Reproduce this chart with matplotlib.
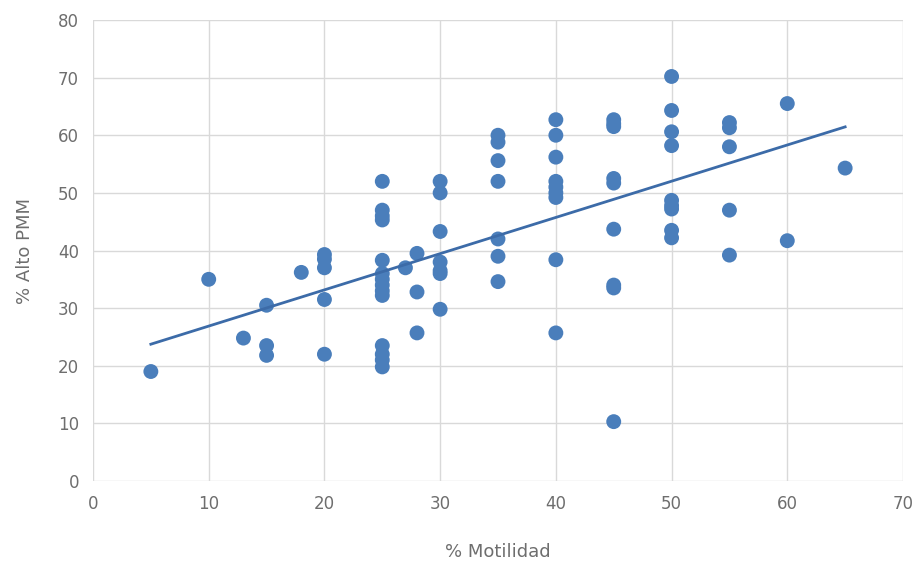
import matplotlib.pyplot as plt
import numpy as np

# % Motilidad vs % Alto PMM, grouped by motility value
motilidad = [5, 10, 13, 15, 15, 15, 18,
             20, 20, 20, 20, 20,
             25, 25, 25, 25, 25, 25, 25, 25, 25, 25, 25, 25, 25, 25,
             27, 28, 28, 28,
             30, 30, 30, 30, 30, 30, 30,
             35, 35, 35, 35, 35, 35, 35,
             40, 40, 40, 40, 40, 40, 40, 40, 40,
             45, 45, 45, 45, 45, 45, 45, 45, 45,
             50, 50, 50, 50, 50, 50, 50, 50, 50,
             55, 55, 55, 55, 55,
             60, 60, 65]
alto_pmm = [19, 35, 24.8, 30.5, 23.5, 21.8, 36.2,
            39.3, 38.5, 37, 31.5, 22,
            52, 47, 46, 45.3, 38.3, 36, 35, 34, 33, 32.2, 23.5, 22, 21, 19.8,
            37, 39.5, 32.8, 25.7,
            52, 50, 43.3, 38, 36.5, 36, 29.8,
            60, 58.8, 55.6, 52, 42, 39, 34.6,
            62.7, 60, 56.2, 52, 51, 50, 49.2, 38.4, 25.7,
            62.7, 62, 61.5, 52.5, 51.7, 43.7, 34, 33.5, 10.3,
            70.2, 64.3, 60.6, 58.2, 48.7, 47.8, 47.2, 43.5, 42.2,
            62.2, 61.3, 58, 47, 39.2,
            65.5, 41.7, 54.3]

x = np.array(motilidad, dtype=float)
y = np.array(alto_pmm, dtype=float)
slope, intercept = np.polyfit(x, y, 1)
xfit = np.array([x.min(), x.max()])

fig = plt.figure(figsize=(9.18, 5.65), dpi=100)
ax = fig.add_axes([93 / 918, 1 - 481 / 565, 810 / 918, 461 / 565])

ax.scatter(x, y, s=115, color='#4a7ebb', edgecolors='none', zorder=3)
ax.plot(xfit, slope * xfit + intercept, color='#3c6ba8', lw=2, zorder=4)

ax.set_xlim(0, 70)
ax.set_ylim(0, 80)
ax.set_xticks(range(0, 71, 10))
ax.set_yticks(range(0, 81, 10))
ax.grid(True, color='#d9d9d9', lw=1)
ax.set_axisbelow(True)
for s in ax.spines.values():
    s.set_visible(False)
ax.tick_params(length=0, labelsize=12, labelcolor='#6e6e6e', pad=10)
ax.set_xlabel('% Motilidad', fontsize=13, color='#6e6e6e', labelpad=22)
ax.set_ylabel('% Alto PMM', fontsize=13, color='#6e6e6e', labelpad=17)

fig.savefig('out.png', dpi=100)
